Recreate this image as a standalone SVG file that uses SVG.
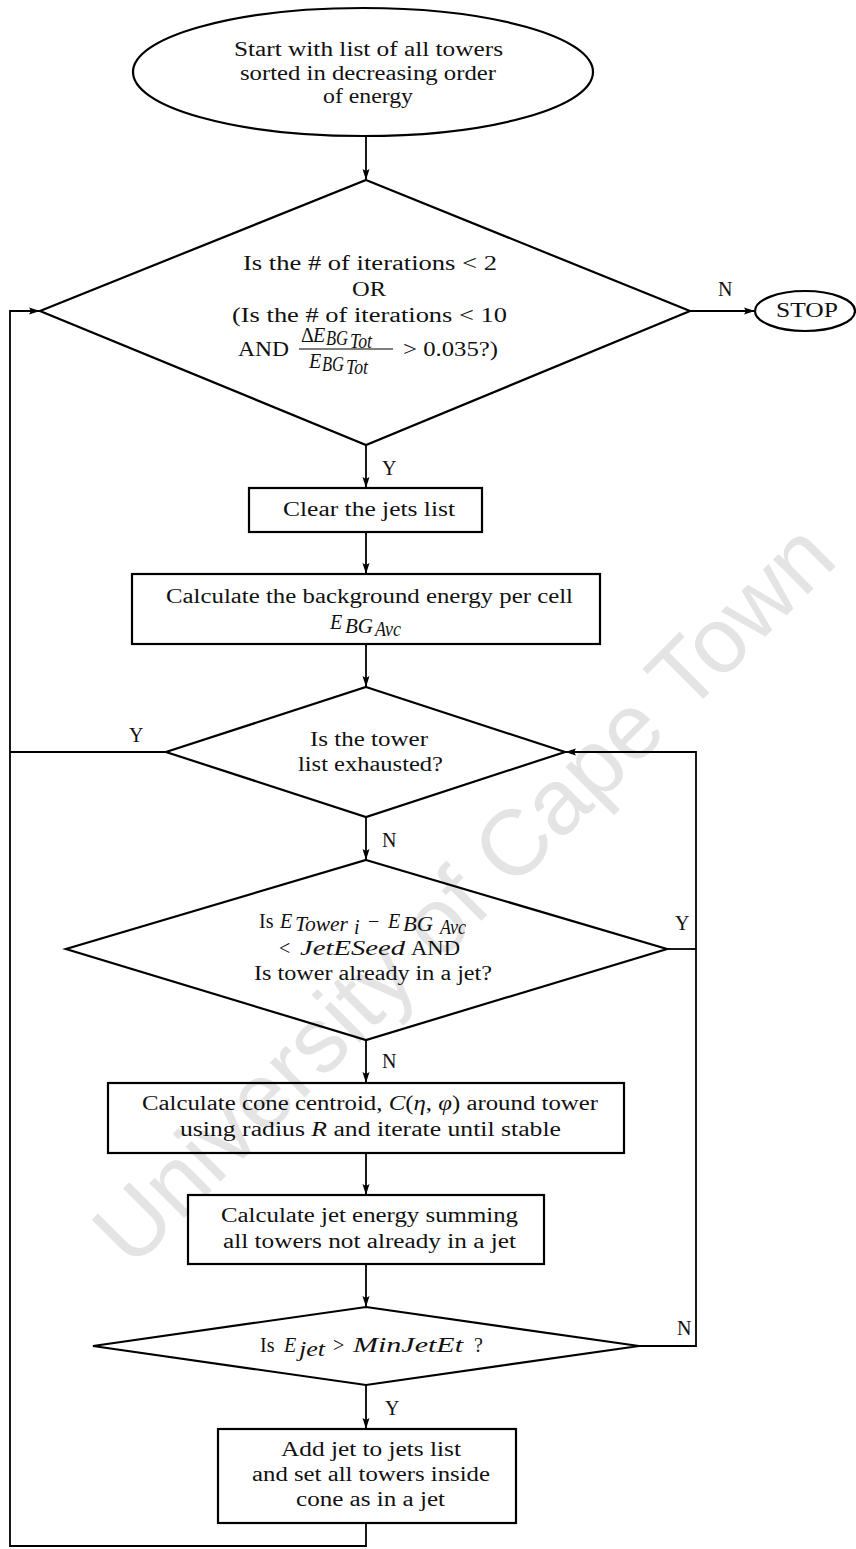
<svg xmlns="http://www.w3.org/2000/svg" width="856" height="1549" viewBox="0 0 856 1549">
<defs>
<marker id="ah" markerWidth="12" markerHeight="8" refX="11" refY="4" orient="auto" markerUnits="userSpaceOnUse">
<path d="M0,0.5 L11,4 L0,7.5 L2,4 Z" fill="#000"/>
</marker>
<style>
.t{font-family:"Liberation Serif","Times New Roman",serif;font-size:20px;fill:#111;stroke:none}
.m{font-style:italic}
.s{fill:none;stroke:#000;stroke-width:2.2}
.c{fill:none;stroke:#000;stroke-width:1.8}
.wm{font-family:"Liberation Sans",Arial,sans-serif;font-size:93px;fill:#e4e4e4}
</style>
</defs>
<rect width="856" height="1549" fill="#fff"/>
<text class="wm" transform="translate(132,1270) rotate(-45)">University of Cape Town</text>

<g id="connectors">
<g class="c">
<line x1="366" y1="137" x2="366" y2="180" marker-end="url(#ah)"/>
<line x1="366" y1="445" x2="366" y2="488" marker-end="url(#ah)"/>
<line x1="366" y1="532" x2="366" y2="574" marker-end="url(#ah)"/>
<line x1="366" y1="644" x2="366" y2="687" marker-end="url(#ah)"/>
<line x1="366" y1="817" x2="366" y2="860" marker-end="url(#ah)"/>
<line x1="366" y1="1040" x2="366" y2="1083" marker-end="url(#ah)"/>
<line x1="366" y1="1153" x2="366" y2="1195" marker-end="url(#ah)"/>
<line x1="366" y1="1264" x2="366" y2="1307" marker-end="url(#ah)"/>
<line x1="366" y1="1385" x2="366" y2="1429" marker-end="url(#ah)"/>
<polyline points="366,1523 366,1546 10,1546 10,311 40,311" marker-end="url(#ah)"/>
<line x1="166" y1="752" x2="10" y2="752"/>
<line x1="690" y1="311" x2="755" y2="311" marker-end="url(#ah)"/>
<line x1="667" y1="949" x2="696" y2="949"/>
<polyline points="639,1346 696,1346 696,752 565,752" marker-end="url(#ah)"/>
</g>
<text class="t" x="718" y="296">N</text>
<text class="t" x="382" y="475">Y</text>
<text class="t" x="129" y="742">Y</text>
<text class="t" x="382" y="847">N</text>
<text class="t" x="675" y="930">Y</text>
<text class="t" x="382" y="1068">N</text>
<text class="t" x="677" y="1335">N</text>
<text class="t" x="385" y="1415">Y</text>
</g>

<g id="start">
<ellipse class="s" cx="363" cy="72" rx="230" ry="64"/>
<text class="t" x="234" y="56" textLength="269" lengthAdjust="spacingAndGlyphs">Start with list of all towers</text>
<text class="t" x="240" y="80" textLength="256" lengthAdjust="spacingAndGlyphs">sorted in decreasing order</text>
<text class="t" x="323" y="103" textLength="90" lengthAdjust="spacingAndGlyphs">of energy</text>
</g>

<g id="iterations">
<polygon class="s" points="366,180 690,311 366,445 40,311"/>
<text class="t" x="243" y="270" textLength="254" lengthAdjust="spacingAndGlyphs">Is the # of iterations &lt; 2</text>
<text class="t" x="352" y="296" textLength="34" lengthAdjust="spacingAndGlyphs">OR</text>
<text class="t" x="232" y="322" textLength="275" lengthAdjust="spacingAndGlyphs">(Is the # of iterations &lt; 10</text>
<text class="t" x="238" y="356" textLength="51" lengthAdjust="spacingAndGlyphs">AND</text>
<text class="t" x="301" y="342" font-size="17">Δ</text>
<text class="t m" x="313" y="342" font-size="17">E</text>
<text class="t m" x="326" y="345" font-size="13" textLength="22" lengthAdjust="spacingAndGlyphs">BG</text>
<text class="t m" x="350" y="348" font-size="12" textLength="22" lengthAdjust="spacingAndGlyphs">Tot</text>
<line x1="299" y1="349" x2="393" y2="349" stroke="#000" stroke-width="1.2"/>
<text class="t m" x="309" y="368" font-size="17">E</text>
<text class="t m" x="322" y="371" font-size="13" textLength="22" lengthAdjust="spacingAndGlyphs">BG</text>
<text class="t m" x="346" y="374" font-size="12" textLength="22" lengthAdjust="spacingAndGlyphs">Tot</text>
<text class="t" x="403" y="356" textLength="95" lengthAdjust="spacingAndGlyphs">&gt; 0.035?)</text>
</g>

<g id="stop">
<ellipse class="s" cx="805" cy="311" rx="50" ry="20"/>
<text class="t" x="776" y="317" textLength="62" lengthAdjust="spacingAndGlyphs">STOP</text>
</g>

<g id="clear">
<rect class="s" x="249" y="488" width="233" height="44"/>
<text class="t" x="283" y="516" textLength="172" lengthAdjust="spacingAndGlyphs">Clear the jets list</text>
</g>

<g id="background">
<rect class="s" x="132" y="574" width="468" height="70"/>
<text class="t" x="166" y="603" textLength="407" lengthAdjust="spacingAndGlyphs">Calculate the background energy per cell</text>
<text class="t m" x="330" y="629" font-size="21">E</text>
<text class="t m" x="345" y="633" font-size="16" textLength="28" lengthAdjust="spacingAndGlyphs">BG</text>
<text class="t m" x="375" y="636" font-size="13" textLength="26" lengthAdjust="spacingAndGlyphs">Avc</text>
</g>

<g id="exhausted">
<polygon class="s" points="366,687 565,752 366,817 166,752"/>
<text class="t" x="310" y="746" textLength="118" lengthAdjust="spacingAndGlyphs">Is the tower</text>
<text class="t" x="298" y="771" textLength="145" lengthAdjust="spacingAndGlyphs">list exhausted?</text>
</g>

<g id="seed">
<polygon class="s" points="366,860 667,949 366,1040 66,949"/>
<text class="t" x="259" y="928">Is</text>
<text class="t m" x="280" y="928" font-size="21">E</text>
<text class="t m" x="295" y="931" font-size="16" textLength="53" lengthAdjust="spacingAndGlyphs">Tower</text>
<text class="t m" x="354" y="934" font-size="11">i</text>
<text class="t" x="368" y="928">−</text>
<text class="t m" x="388" y="928" font-size="21">E</text>
<text class="t m" x="403" y="931" font-size="16" textLength="30" lengthAdjust="spacingAndGlyphs">BG</text>
<text class="t m" x="440" y="934" font-size="12" textLength="26" lengthAdjust="spacingAndGlyphs">Avc</text>
<text class="t" x="279" y="955">&lt;</text>
<text class="t m" x="300" y="955" font-size="21" textLength="105" lengthAdjust="spacingAndGlyphs">JetESeed</text>
<text class="t" x="411" y="955" textLength="49" lengthAdjust="spacingAndGlyphs">AND</text>
<text class="t" x="254" y="980" textLength="238" lengthAdjust="spacingAndGlyphs">Is tower already in a jet?</text>
</g>

<g id="centroid">
<rect class="s" x="108" y="1083" width="516" height="70"/>
<text class="t" x="142" y="1110" textLength="456" lengthAdjust="spacingAndGlyphs">Calculate cone centroid, <tspan class="m">C</tspan>(<tspan class="m">η</tspan>, <tspan class="m">φ</tspan>) around tower</text>
<text class="t" x="180" y="1136" textLength="381" lengthAdjust="spacingAndGlyphs">using radius <tspan class="m">R</tspan> and iterate until stable</text>
</g>

<g id="jetenergy">
<rect class="s" x="188" y="1195" width="356" height="69"/>
<text class="t" x="221" y="1222" textLength="297" lengthAdjust="spacingAndGlyphs">Calculate jet energy summing</text>
<text class="t" x="223" y="1248" textLength="293" lengthAdjust="spacingAndGlyphs">all towers not already in a jet</text>
</g>

<g id="minjet">
<polygon class="s" points="366,1307 639,1346 366,1385 93,1346"/>
<text class="t" x="260" y="1352">Is</text>
<text class="t m" x="284" y="1352" font-size="21">E</text>
<text class="t m" x="299" y="1356" font-size="17" textLength="26" lengthAdjust="spacingAndGlyphs">jet</text>
<text class="t" x="333" y="1352">&gt;</text>
<text class="t m" x="353" y="1352" font-size="21" textLength="110" lengthAdjust="spacingAndGlyphs">MinJetEt</text>
<text class="t" x="474" y="1352">?</text>
</g>

<g id="addjet">
<rect class="s" x="218" y="1429" width="298" height="94"/>
<text class="t" x="281" y="1456" textLength="180" lengthAdjust="spacingAndGlyphs">Add jet to jets list</text>
<text class="t" x="252" y="1481" textLength="238" lengthAdjust="spacingAndGlyphs">and set all towers inside</text>
<text class="t" x="296" y="1506" textLength="149" lengthAdjust="spacingAndGlyphs">cone as in a jet</text>
</g>
</svg>
